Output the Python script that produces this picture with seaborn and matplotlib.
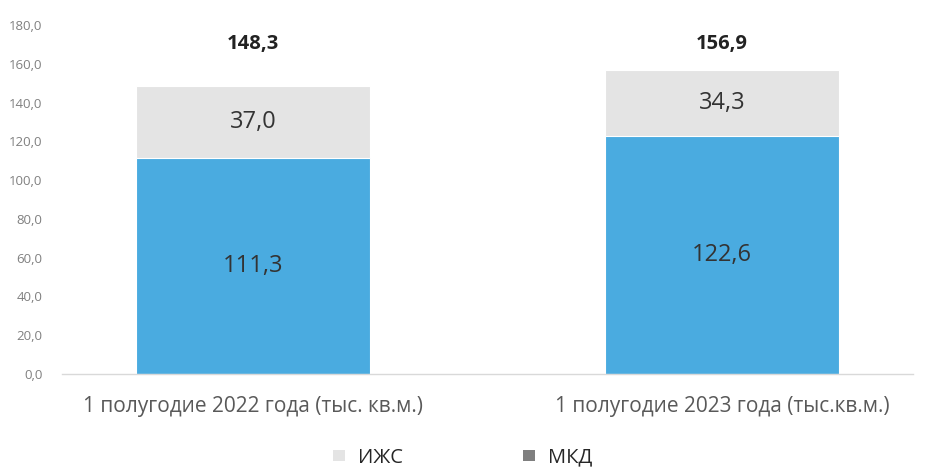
import numpy as np
import pandas as pd
import matplotlib
matplotlib.use("Agg")
import matplotlib.pyplot as plt
from matplotlib.patches import Patch
import seaborn as sns

# Data
categories = ["1 полугодие 2022 года (тыс. кв.м.)", "1 полугодие 2023 года (тыс.кв.м.)"]
mkd = [111.3, 122.6]
izhs = [37.0, 34.3]
totals = [148.3, 156.9]
yticks = np.arange(0, 181, 20)

sns.set_theme(style="white")
plt.rcParams["font.family"] = ["Open Sans", "DejaVu Sans"]

df = pd.DataFrame({"cat": categories, "mkd": mkd, "izhs": izhs})
df["total"] = df["mkd"] + df["izhs"]

fig = plt.figure(figsize=(9.29, 4.69), dpi=100)
ax = fig.add_axes([62 / 929, 95 / 469, (913 - 62) / 929, (444 - 95) / 469])

blue = "#4aabe0"
grey = "#e4e4e4"

# stacked: full total in grey, МКД part in blue on top of it
sns.barplot(data=df, x="cat", y="total", color=grey, width=0.5,
            saturation=1, ax=ax)
sns.barplot(data=df, x="cat", y="mkd", color=blue, width=0.5,
            saturation=1, ax=ax)
for p in ax.patches:
    p.set_edgecolor("white")
    p.set_linewidth(0.8)

ax.set_ylim(0, 180)
ax.set_xlim(-0.407, 1.407)
ax.set_yticks(yticks)
ax.set_yticklabels([f"{v:.1f}".replace(".", ",") for v in yticks],
                   fontsize=9.5, color="#808080")
ax.tick_params(axis="y", length=0, pad=14)
ax.tick_params(axis="x", length=0, pad=16, labelsize=15, labelcolor="#595959")
ax.set_xlabel("")
ax.set_ylabel("")
for s in ["top", "right", "left"]:
    ax.spines[s].set_visible(False)
ax.spines["bottom"].set_color("#d9d9d9")
ax.spines["bottom"].set_linewidth(1)

def fmt(v):
    return f"{v:.1f}".replace(".", ",")

for i in range(len(categories)):
    ax.text(i, mkd[i] / 2, fmt(mkd[i]), ha="center", va="center",
            fontsize=17, color="#333333")
    ax.text(i, mkd[i] + izhs[i] / 2, fmt(izhs[i]), ha="center", va="center",
            fontsize=17, color="#333333")
    ax.text(i, 170, fmt(totals[i]), ha="center", va="center",
            fontsize=14.5, fontweight="bold", color="#222222")

handles = [Patch(facecolor=grey, edgecolor="none", label="ИЖС"),
           Patch(facecolor="#7f7f7f", edgecolor="none", label="МКД")]
fig.legend(handles=handles, loc="center", bbox_to_anchor=(0.498, 0.024),
           ncol=2, frameon=False, fontsize=14.5, handlelength=0.6,
           handleheight=0.5, columnspacing=6.0, handletextpad=0.6)

fig.savefig("out.png", dpi=100)
